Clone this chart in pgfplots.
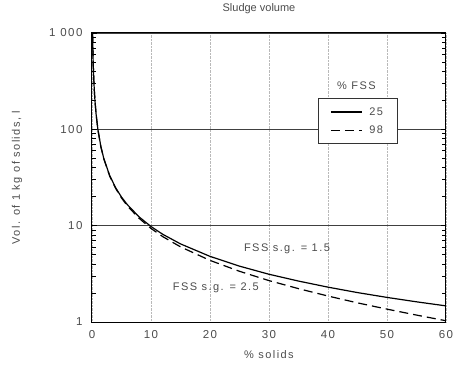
\documentclass[border=0pt]{standalone}
\usepackage{pgfplots}
\pgfplotsset{compat=1.18}
\usepackage{fontspec}
\setmainfont{Liberation Sans}[LetterSpace=13]
\newfontfamily\plainfont{Liberation Sans}
\begin{document}
\begin{tikzpicture}
\begin{axis}[
  scale only axis,
  width=354pt, height=289pt,
  ymode=log, ymin=1, ymax=1000, xmin=0, xmax=60,
  ytick={1,10,100,1000}, yticklabels={1,10,100,1 000},
  xtick={0,10,20,30,40,50,60},
  /pgf/number format/assume math mode=true,
  ticklabel style={font=\fontsize{11.5}{13}\selectfont, text=black!70},
  y tick label style={xshift=-6pt},
  x tick label style={yshift=-5pt},
  tick align=inside,
  major tick length=5pt, minor tick length=4pt,
  x tick style={draw=none},
  y tick style={black, line width=0.8pt},
  ytick pos=both,
  xmajorgrids, ymajorgrids,
  major x grid style={densely dotted, gray!55, line width=0.7pt},
  major y grid style={black!75, line width=0.7pt},
  axis line style={black, line width=1pt},
  title={\plainfont Sludge volume},
  title style={font=\fontsize{11}{13}\selectfont, text=black!70, at={(axis description cs:0.5,1)}, anchor=center, yshift=18pt, xshift=-10pt},
  xlabel={\% solids},
  ylabel={Vol. of 1 kg of solids, l},
  label style={font=\fontsize{11}{13}\selectfont, text=black!70},
  xlabel style={at={(axis description cs:0.5,0)}, anchor=center, yshift=-33pt},
  ylabel style={at={(axis description cs:0,0.5)}, anchor=center, yshift=75pt},
  legend style={at={(0.638,0.775)}, anchor=north west, draw=black!80, line width=0.7pt, font=\fontsize{11}{13}\selectfont, text=black!70, row sep=5pt, column sep=5pt, inner xsep=12pt, inner ysep=7pt},
  legend cell align=left,
  legend image code/.code={\draw[#1] (0pt,0pt) -- (31pt,0pt);},
]
\addplot[black, line width=1.2pt] coordinates {
(0.1,999.8) (0.15,666.5) (0.2,499.8) (0.3,333.1) (0.4,249.8) (0.5,199.8) (0.7,142.7)
(1,99.8) (1.5,66.5) (2,49.8) (3,33.1) (4,24.8) (5,19.8) (6,16.5) (8,12.3) (10,9.8)
(12,8.13) (15,6.47) (20,4.8) (25,3.8) (30,3.13) (35,2.66) (40,2.3) (45,2.02) (50,1.8) (55,1.62) (60,1.47)
};
\addlegendentry{25}
\addplot[black, line width=1.2pt, dash pattern=on 9pt off 5pt] coordinates {
(0.1,999.4) (0.15,666.0) (0.2,499.4) (0.3,332.7) (0.4,249.4) (0.5,199.4) (0.7,142.2)
(1,99.4) (1.5,66.0) (2,49.4) (3,32.7) (4,24.4) (5,19.4) (6,16.0) (8,11.9) (10,9.36)
(12,7.69) (15,6.03) (20,4.36) (25,3.36) (30,2.69) (35,2.22) (40,1.86) (45,1.58) (50,1.36) (55,1.18) (60,1.03)
};
\addlegendentry{98}
\node[font=\fontsize{11}{13}\selectfont, text=black!70] at (rel axis cs:0.747,0.817) {\% FSS};
\node[font=\fontsize{11}{13}\selectfont, text=black!70] at (axis cs:33.05,5.8) {FSS s.g. = 1.5};
\node[font=\fontsize{11}{13}\selectfont, text=black!70] at (axis cs:21.0,2.28) {FSS s.g. = 2.5};
\end{axis}
\pgfresetboundingbox
\path[use as bounding box] ([shift={(-92pt,-45pt)}]current axis.south west) rectangle ([shift={(7pt,33pt)}]current axis.north east);
\end{tikzpicture}
\end{document}
